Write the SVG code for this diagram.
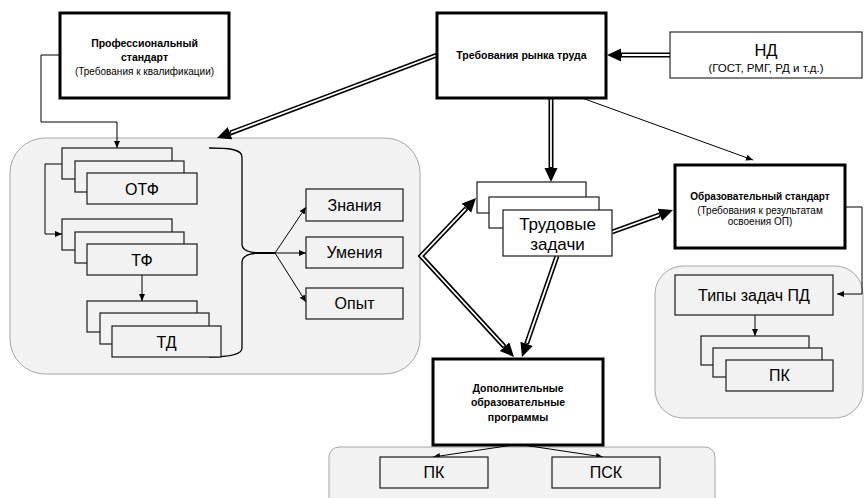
<svg xmlns="http://www.w3.org/2000/svg" width="864" height="498" viewBox="0 0 864 498">
<style>
.panel{fill:#f2f2f2;stroke:#a6a6a6;stroke-width:1}
.thick{fill:#fff;stroke:#000;stroke-width:3}
.thin{fill:#fff;stroke:#000;stroke-width:1}
.sg{fill:#f2f2f2;stroke:#1a1a1a;stroke-width:1.2}
.sw{fill:#fff;stroke:#1a1a1a;stroke-width:1.2}
.dbo{fill:none;stroke:#000;stroke-width:5;stroke-linejoin:miter}
.dbi{fill:none;stroke:#fff;stroke-width:1.8;stroke-linejoin:miter}
.ln{fill:none;stroke:#000;stroke-width:1}
text{font-family:"Liberation Sans",Arial,sans-serif;fill:#000;text-anchor:middle;font-weight:normal}
.b{font-weight:bold;font-size:10.5px}
.s{font-size:10px}
.m{font-size:16px;font-weight:normal}
</style>
<defs>
<marker id="big" markerUnits="userSpaceOnUse" markerWidth="16" markerHeight="14" refX="0" refY="6.5" orient="auto-start-reverse"><path d="M0,0 L14,6.5 L0,13 z" fill="#000"/></marker>
<marker id="sm" markerUnits="userSpaceOnUse" markerWidth="8" markerHeight="8" refX="7" refY="3" orient="auto"><path d="M0,0 L7,3 L0,6 z" fill="#000"/></marker>
</defs>

<g id="panels">
<rect class="panel" x="10" y="138" width="410" height="236" rx="35"/>
<rect class="panel" x="655" y="266" width="208" height="152" rx="28"/>
<rect class="panel" x="329" y="447" width="386" height="70" rx="10"/>
</g>

<g id="connectors">
<path class="dbo" d="M670,55 L621,55" marker-end="url(#big)"/>
<path class="dbi" d="M670,55 L622,55"/>
<path class="dbo" d="M437,55 L230.1,133.1" marker-end="url(#big)"/>
<path class="dbi" d="M437,55 L231,132.7"/>
<path class="dbo" d="M551,98 L551,168" marker-end="url(#big)"/>
<path class="dbi" d="M551,98 L551,167"/>
<path class="dbo" d="M466.4,208.2 L421,256 L504.5,346.7" marker-start="url(#big)" marker-end="url(#big)"/>
<path class="dbi" d="M465.7,208.9 L421,256 L503.8,346"/>
<path class="dbo" d="M557,256 L526.6,343.8" marker-end="url(#big)"/>
<path class="dbi" d="M557,256 L526.9,342.9"/>
<path class="dbo" d="M612,232 L659.8,214.8" marker-end="url(#big)"/>
<path class="dbi" d="M612,232 L658.9,215.1"/>

<path class="ln" d="M60,55 H41 V122 H117 V148" marker-end="url(#sm)"/>
<path class="ln" d="M62,164 H45 V234 H62" marker-end="url(#sm)"/>
<path class="ln" d="M142,275 V301" marker-end="url(#sm)"/>
<path class="ln" style="stroke-width:1.3" d="M209,148 C228,148 242,149 242,157 V244 C242,250 250,253 262,253 C250,253 242,256 242,262 V348 C242,355 228,357 209,357"/>
<path class="ln" style="stroke-width:2" d="M255,253 H275"/>
<path class="ln" d="M275,253 L306,207" marker-end="url(#sm)"/>
<path class="ln" d="M275,253 L306,253" marker-end="url(#sm)"/>
<path class="ln" d="M275,253 L306,302" marker-end="url(#sm)"/>
<path class="ln" d="M582,98 L753,160" marker-end="url(#sm)"/>
<path class="ln" d="M845,207 H862 V294 H837" marker-end="url(#sm)"/>
<path class="ln" d="M755,315 V336" marker-end="url(#sm)"/>
<path class="ln" d="M513,445 L433,457" marker-end="url(#sm)"/>
<path class="ln" d="M523,445 L603,457" marker-end="url(#sm)"/>
</g>

<g id="prof">
<rect class="thick" x="60" y="13" width="169" height="85"/>
<text class="b" x="144.5" y="46.5">Профессиональный</text>
<text class="b" x="144.5" y="61">стандарт</text>
<text class="s" x="144.5" y="75">(Требования к квалификации)</text>
</g>

<g id="rynok">
<rect class="thick" x="437" y="13" width="169" height="85"/>
<text class="b" x="521.5" y="58.5">Требования рынка труда</text>
</g>

<g id="nd">
<rect class="thin" x="670" y="32" width="192" height="46"/>
<text x="766" y="56" style="font-size:16.5px">НД</text>
<text x="766" y="72" style="font-size:11.5px">(ГОСТ, РМГ, РД и т.д.)</text>
</g>

<g id="otf">
<rect class="sg" x="62" y="148" width="110" height="31"/>
<rect class="sg" x="75" y="161" width="109" height="31"/>
<rect class="sg" x="87" y="173" width="110" height="31"/>
<text class="m" x="142" y="194.5">ОТФ</text>
</g>

<g id="tf">
<rect class="sg" x="62" y="219" width="110" height="31"/>
<rect class="sg" x="75" y="232" width="109" height="31"/>
<rect class="sg" x="87" y="244" width="110" height="31"/>
<text class="m" x="142" y="265.5">ТФ</text>
</g>

<g id="td">
<rect class="sg" x="87" y="301" width="110" height="31"/>
<rect class="sg" x="100" y="313" width="109" height="31"/>
<rect class="sg" x="112" y="326" width="109" height="31"/>
<text class="m" x="166.5" y="347.5">ТД</text>
</g>

<g id="znaniya">
<rect class="sg" x="306" y="189" width="97" height="32"/>
<text class="m" x="354.5" y="211">Знания</text>
</g>
<g id="umeniya">
<rect class="sg" x="306" y="237" width="97" height="31"/>
<text class="m" x="354.5" y="258">Умения</text>
</g>
<g id="opyt">
<rect class="sg" x="306" y="288" width="97" height="31"/>
<text class="m" x="354.5" y="309">Опыт</text>
</g>

<g id="trud">
<rect class="sw" x="477" y="182" width="109" height="31"/>
<rect class="sw" x="489" y="197" width="110" height="31"/>
<rect class="sw" x="503" y="210" width="109" height="46"/>
<text x="557.5" y="229.5" style="font-size:17px">Трудовые</text>
<text x="557.5" y="250" style="font-size:17px">задачи</text>
</g>

<g id="os">
<rect class="thick" x="675" y="165" width="170" height="83"/>
<text class="b" x="760" y="199.5" style="font-size:10px">Образовательный стандарт</text>
<text class="s" x="760" y="214">(Требования к результатам</text>
<text class="s" x="760" y="225">освоения ОП)</text>
</g>

<g id="tipy">
<rect class="sg" x="675" y="275" width="158" height="40"/>
<text x="754" y="301" style="font-size:16px">Типы задач ПД</text>
</g>

<g id="pk-right">
<rect class="sg" x="701" y="336" width="108" height="29"/>
<rect class="sg" x="713" y="348" width="109" height="29"/>
<rect class="sg" x="726" y="360" width="107" height="31"/>
<text class="m" x="779.5" y="381">ПК</text>
</g>

<g id="dop">
<rect class="thick" x="433" y="359" width="170" height="86"/>
<text class="b" x="518" y="392">Дополнительные</text>
<text class="b" x="518" y="406">образовательные</text>
<text class="b" x="518" y="421">программы</text>
</g>

<g id="pk-bottom">
<rect class="sg" x="380" y="457" width="108" height="31"/>
<text class="m" x="434" y="478">ПК</text>
</g>
<g id="psk">
<rect class="sg" x="552" y="457" width="108" height="31"/>
<text class="m" x="606" y="478">ПСК</text>
</g>
</svg>
